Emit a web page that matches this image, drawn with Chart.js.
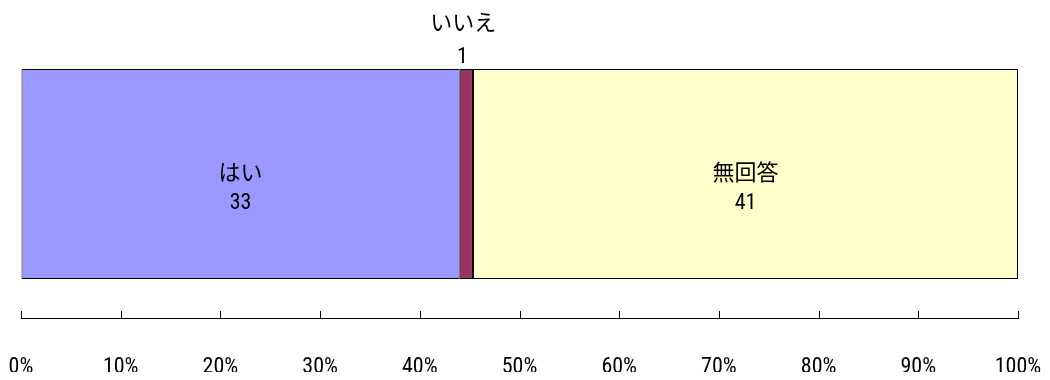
<!DOCTYPE html>
<html>
<head>
<meta charset="utf-8">
<script src="https://cdn.jsdelivr.net/npm/chart.js@4"></script>
<style>
  body { margin: 0; background: #fff; }
  #wrap { width: 1050px; height: 380px; }
</style>
</head>
<body>
<div id="wrap"><canvas id="chart-answers" width="1050" height="380"></canvas></div>
<script>
const categories = ['はい', 'いいえ', '無回答'];
const counts = [33, 1, 41];
const fills = ['#9999FF', '#993366', '#FFFFCC'];
const tickStep = 10;

const total = counts.reduce((a, b) => a + b, 0);
// narrow digits, kana/kanji fall through to the CJK face
const FONT = "'Roboto Condensed', 'Noto Sans CJK JP', sans-serif";

// short tick marks pointing up from the axis line
const upTicks = {
    id: 'upTicks',
    afterDraw(chart) {
        const scale = chart.scales.x;
        const ctx = chart.ctx;
        const y = chart.chartArea.bottom;
        ctx.save();
        ctx.strokeStyle = '#000';
        ctx.lineWidth = 1;
        scale.ticks.forEach(t => {
            const x = Math.round(scale.getPixelForValue(t.value)) + 0.5;
            ctx.beginPath();
            ctx.moveTo(x, y);
            ctx.lineTo(x, y - 7);
            ctx.stroke();
        });
        ctx.restore();
    }
};

// category name and count on each segment, above the bar when too narrow
const segLabels = {
    id: 'segLabels',
    afterDatasetsDraw(chart) {
        const ctx = chart.ctx;
        ctx.save();
        ctx.fillStyle = '#000';
        ctx.textAlign = 'center';
        ctx.textBaseline = 'middle';
        ctx.font = '22px ' + FONT;
        chart.data.datasets.forEach((ds, i) => {
            const bar = chart.getDatasetMeta(i).data[0];
            const cx = (bar.x + bar.base) / 2;
            const w = Math.abs(bar.x - bar.base);
            if (w > 40) {
                ctx.fillText(ds.label, cx, bar.y);
                ctx.fillText(String(counts[i]), cx, bar.y + 29);
            } else {
                const top = bar.y - bar.height / 2;
                ctx.fillText(ds.label, cx - 3, top - 45);
                ctx.fillText(String(counts[i]), cx - 4, top - 12);
            }
        });
        ctx.restore();
    }
};

new Chart(document.getElementById('chart-answers'), {
    type: 'bar',
    data: {
        labels: [''],
        datasets: categories.map((c, i) => ({
            label: c,
            data: [counts[i] / total * 100],
            backgroundColor: fills[i],
            borderColor: '#000',
            borderWidth: 1,
            borderSkipped: false,
            barPercentage: 0.729,
            categoryPercentage: 1
        }))
    },
    options: {
        indexAxis: 'y',
        responsive: false,
        animation: false,
        layout: { padding: { top: 30, left: 21, right: 32, bottom: 8 } },
        plugins: {
            legend: { display: false },
            tooltip: { enabled: false }
        },
        scales: {
            x: {
                stacked: true,
                min: 0,
                max: 100,
                border: { display: true, color: '#000', width: 1 },
                grid: { display: true, drawOnChartArea: false, drawTicks: false },
                ticks: {
                    stepSize: tickStep,
                    padding: 36,
                    color: '#000',
                    font: { family: FONT, size: 22 },
                    maxRotation: 0,
                    autoSkip: false,
                    callback: v => v + '%'
                },
                afterFit(scale) {
                    scale.height = 54;
                    scale.paddingLeft = 0;
                    scale.paddingRight = 0;
                }
            },
            y: {
                stacked: true,
                display: false,
                offset: true
            }
        }
    },
    plugins: [upTicks, segLabels]
});
</script>
</body>
</html>
